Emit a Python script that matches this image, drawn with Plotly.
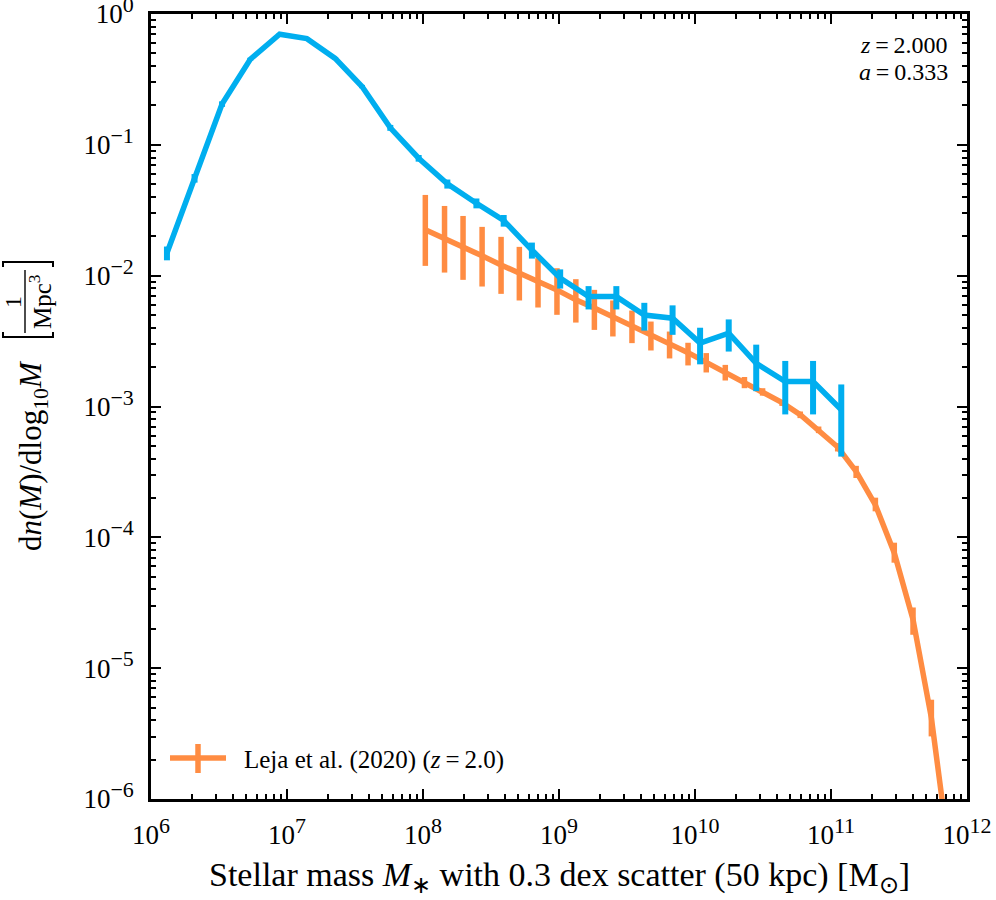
import plotly.graph_objects as go

# ---------------- data ----------------
sim_mass = [1.31e6, 2.09e6, 3.33e6, 5.37e6, 8.83e6, 1.40e7, 2.26e7, 3.56e7, 5.75e7, 9.29e7,
            1.51e8, 2.47e8, 3.92e8, 6.32e8, 1.02e9, 1.65e9, 2.64e9, 4.24e9, 6.84e9, 1.09e10,
            1.77e10, 2.82e10, 4.61e10, 7.38e10, 1.19e11]
sim_phi = [0.0149, 0.0556, 0.205, 0.451, 0.700, 0.648, 0.458, 0.279, 0.135, 0.079,
           0.0503, 0.0358, 0.0264, 0.0157, 0.00957, 0.00692, 0.00692, 0.00500, 0.00473, 0.00305,
           0.00363, 0.00214, 0.00155, 0.00155, 0.000944]
sim_err = [0.0018, 0.0042, 0.010, 0.012, 0.012, 0.012, 0.010, 0.008, 0.007, 0.0046,
           0.0040, 0.0031, 0.0027, 0.0022, 0.0016, 0.0014, 0.0014, 0.0012, 0.0012, 0.00095,
           0.0010, 0.00083, 0.00068, 0.00068, 0.00053]

leja_mass = [1.04e8, 1.44e8, 1.97e8, 2.72e8, 3.75e8, 5.11e8, 7.01e8, 9.66e8, 1.33e9, 1.82e9,
             2.49e9, 3.44e9, 4.74e9, 6.50e9, 8.89e9, 1.21e10, 1.67e10, 2.31e10, 3.14e10, 4.37e10,
             5.94e10, 8.11e10, 1.12e11, 1.53e11, 2.12e11, 2.92e11, 4.01e11, 5.47e11, 7.53e11]
leja_phi = [0.0224, 0.0193, 0.0167, 0.01417, 0.01208, 0.01032, 0.00902, 0.00779, 0.00653, 0.00565,
            0.00487, 0.00416, 0.00353, 0.00301, 0.00258, 0.00217, 0.00182, 0.00153, 0.00130, 0.00107,
            0.000865, 0.000664, 0.000490, 0.000319, 0.000177, 7.59e-5, 2.35e-5, 4.17e-6, 3.3e-7]
leja_hi = [0.0414, 0.0341, 0.0286, 0.0236, 0.0198, 0.0166, 0.0136, 0.0114, 0.00940, 0.00779,
           0.00646, 0.00541, 0.00446, 0.00374, 0.00307, 0.00256, 0.00208, 0.00168, 0.00138, 0.00112,
           0.000916, 0.000703, 0.000525, 0.000352, 0.000201, 9.10e-5, 2.91e-5, 5.74e-6, 3.4e-7]
leja_lo = [0.01188, 0.01056, 0.00929, 0.00826, 0.00726, 0.00646, 0.00571, 0.00502, 0.00438, 0.00385,
           0.00343, 0.00305, 0.00268, 0.00233, 0.00206, 0.00182, 0.00158, 0.00138, 0.00121, 0.00101,
           0.000815, 0.000626, 0.000453, 0.000284, 0.000158, 6.40e-5, 1.80e-5, 3.01e-6, 3.2e-7]

x_ticks = [1e6, 1e7, 1e8, 1e9, 1e10, 1e11, 1e12]
x_exponents = ["6", "7", "8", "9", "10", "11", "12"]
y_ticks = [1e-6, 1e-5, 1e-4, 1e-3, 1e-2, 1e-1, 1e0]
y_exponents = ["\u22126", "\u22125", "\u22124", "\u22123", "\u22122", "\u22121", "0"]

x_title = "Stellar mass <i>M</i><sub>\u2217</sub> with 0.3 dex scatter (50 kpc) [M<sub>\u2299</sub>]"
y_title = "d<i>n</i>(<i>M</i>)/dlog<sub>10</sub><i>M</i>"
y_unit_num = "1"
y_unit_den = "Mpc<sup>3</sup>"
legend_label = "Leja et al. (2020) (<i>z</i>\u2009=\u20092.0)"
info_lines = ["<i>z</i>\u2009=\u20092.000", "<i>a</i>\u2009=\u20090.333"]

BLUE = "#00AEEF"
ORANGE = "#FF8C42"
FONT = "Liberation Serif"


def pow10(e):
    return f"10<sup><span style='font-size:22px'>{e}</span></sup>"


x_ticktext = [pow10(e) for e in x_exponents]
y_ticktext = [pow10(e) for e in y_exponents]

# ---------------- figure ----------------
W, H = 996, 900
ML, MR, MT, MB = 151, 29, 14, 101
PW, PH = W - ML - MR, H - MT - MB


def px(xp):
    return (xp - ML) / PW


def py(yp):
    return (H - MB - yp) / PH


fig = go.Figure()

fig.add_trace(go.Scatter(
    x=leja_mass, y=leja_phi, mode="lines",
    line=dict(color=ORANGE, width=5.5),
    error_y=dict(type="data", symmetric=False,
                 array=[h - v for h, v in zip(leja_hi, leja_phi)],
                 arrayminus=[v - l for v, l in zip(leja_phi, leja_lo)],
                 color=ORANGE, thickness=5.5, width=0),
    showlegend=False, name=legend_label, hoverinfo="skip"))

fig.add_trace(go.Scatter(
    x=sim_mass, y=sim_phi, mode="lines",
    line=dict(color=BLUE, width=5.5),
    error_y=dict(type="data", array=sim_err, color=BLUE, thickness=6, width=0),
    showlegend=False, hoverinfo="skip"))

minor_x = [k * 10 ** d for d in range(6, 12) for k in range(2, 10)]
minor_y = [k * 10.0 ** d for d in range(-6, 0) for k in range(2, 10)]

axis_common = dict(
    type="log", showline=True, linecolor="black", linewidth=2.5, mirror="allticks",
    ticks="inside", ticklen=10, tickwidth=2, tickcolor="black",
    showgrid=False, zeroline=False, ticklabeloverflow="allow", automargin=False,
    tickfont=dict(family=FONT, size=27, color="black"),
)

fig.update_xaxes(
    range=[6, 12], tickmode="array", tickvals=x_ticks, ticktext=x_ticktext,
    ticklabelstandoff=10,
    minor=dict(tickmode="array", tickvals=minor_x, ticks="inside", ticklen=5,
               tickwidth=1.5, tickcolor="black", showgrid=False),
    **axis_common)
fig.update_yaxes(
    range=[-6, 0], tickmode="array", tickvals=y_ticks, ticktext=y_ticktext,
    ticklabelstandoff=9,
    minor=dict(tickmode="array", tickvals=minor_y, ticks="inside", ticklen=5,
               tickwidth=1.5, tickcolor="black", showgrid=False),
    **axis_common)


def note(text, xp, yp, size, angle=0, xanchor="center"):
    return dict(text=text, textangle=angle, x=px(xp), y=py(yp), xref="paper", yref="paper",
                showarrow=False, xanchor=xanchor, yanchor="middle",
                font=dict(family=FONT, size=size, color="black"))


ann = [
    note(x_title, 559, 877, 34),
    note(y_title, 33, 455, 31, angle=-90),
    note(y_unit_num, 13, 302, 24, angle=-90),
    note(y_unit_den, 40, 302, 25, angle=-90),
    note(info_lines[0], 950, 45, 24, xanchor="right"),
    note(info_lines[1], 950, 72, 24, xanchor="right"),
    note(legend_label, 242, 760, 25, xanchor="left"),
]


def ppath(points):
    return "M " + " L ".join(f"{px(a):.5f},{py(b):.5f}" for a, b in points)


shapes = [
    # fraction bar
    dict(type="line", xref="paper", yref="paper", x0=px(25), x1=px(25), y0=py(270), y1=py(333),
         line=dict(color="black", width=1.4)),
    # brackets around the unit (rotated)
    dict(type="path", xref="paper", yref="paper",
         path=ppath([(3, 267), (3, 262), (53, 262), (53, 267)]),
         line=dict(color="black", width=2)),
    dict(type="path", xref="paper", yref="paper",
         path=ppath([(3, 332), (3, 337), (53, 337), (53, 332)]),
         line=dict(color="black", width=2)),
    # legend glyph
    dict(type="line", xref="paper", yref="paper", x0=px(170), x1=px(226), y0=py(758), y1=py(758),
         line=dict(color=ORANGE, width=5.5)),
    dict(type="line", xref="paper", yref="paper", x0=px(198), x1=px(198), y0=py(744), y1=py(773),
         line=dict(color=ORANGE, width=5.5)),
]

fig.update_layout(
    width=W, height=H, autosize=False,
    margin=dict(l=ML, r=MR, t=MT, b=MB, autoexpand=False),
    paper_bgcolor="white", plot_bgcolor="white",
    showlegend=False, hovermode=False,
    annotations=ann, shapes=shapes,
    font=dict(family=FONT, color="black"),
)

fig.write_html("out.html", config={"displayModeBar": False},
               post_script="document.body.style.margin='0px';")
